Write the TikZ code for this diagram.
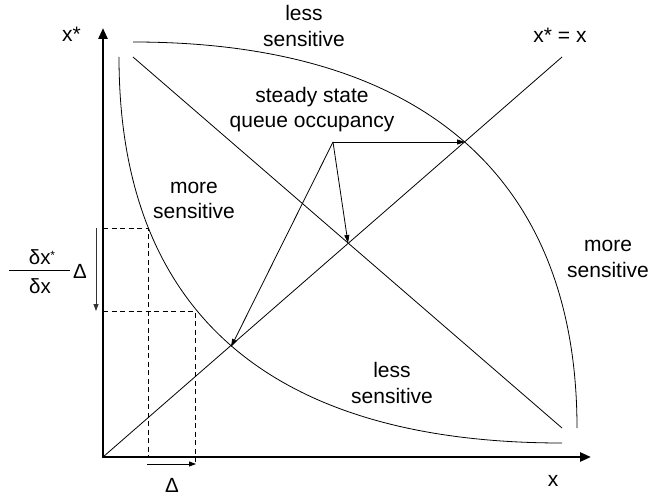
\documentclass[tikz,border=0pt]{standalone}
\usepackage{fontspec}
\setmainfont{Liberation Sans}
\usetikzlibrary{arrows.meta}
\begin{document}
\begin{tikzpicture}[x=1pt,y=-1pt,
  thinline/.style={line width=0.8pt},
  axisline/.style={line width=2.6pt,line join=miter,{Triangle[length=11pt,width=9pt]}-{Triangle[length=11pt,width=9pt]}},
  ptr/.style={line width=0.8pt,-{Triangle[length=8pt,width=5pt]}},
  dashline/.style={line width=0.8pt,dash pattern=on 5pt off 3.5pt},
  lbl/.style={font=\fontsize{21}{26}\selectfont,anchor=base,inner sep=0pt},
  frac/.style={font=\fontsize{20.5}{22}\selectfont,anchor=base,inner sep=0pt}]
\useasboundingbox (0,0) rectangle (652,497);
% key points
\coordinate (O) at (103,457);
\coordinate (ytip) at (103,28);
\coordinate (xtip) at (591,457);
\coordinate (diagend) at (562,57);
\coordinate (adstart) at (133,57);
\coordinate (adend) at (562,428);
\coordinate (ustart) at (133,42);
\coordinate (uend) at (577,428);
\coordinate (lstart) at (119,57);
\coordinate (lend) at (562,443);
\coordinate (src) at (333,142);
\coordinate (hitU) at (465,142);
\coordinate (hitC) at (348,243);
\coordinate (hitL) at (231,347);
\coordinate (ya) at (103,228);
\coordinate (yb) at (103,311);
\coordinate (pa) at (148,228);
\coordinate (pb) at (195,311);
\coordinate (xa) at (148,457);
\coordinate (xb) at (195,463);
% axes
\draw[axisline] (ytip) -- (O) -- (xtip);
% lines
\draw[thinline] (O) -- (diagend);
\draw[thinline] (adstart) -- (adend);
% arcs
\draw[thinline] (ustart) .. controls (422,42) and (577,177) .. (uend);
\draw[thinline] (lstart) .. controls (119,312) and (270,443) .. (lend);
% dashed
\draw[dashline] (ya) -- (pa) -- (xa);
\draw[dashline] (yb) -- (pb) -- (xb);
% arrows from steady state
\draw[ptr] (src) -- (hitU);
\draw[ptr] (src) -- (hitC);
\draw[ptr] (src) -- (hitL);
% delta arrows
\coordinate (va) at (96,228);
\coordinate (vb) at (96,311);
\coordinate (ha) at (147,464);
\coordinate (hb) at (196,464);
\draw[line width=0.8pt,black!80,-{Triangle[length=7pt,width=5pt]}] (va) -- (vb);
\draw[line width=0.8pt,-{Triangle[length=7pt,width=5pt]}] (ha) -- (hb);
% labels
\node[lbl] (t1) at (304,21) {less};
\node[lbl] (t2) at (304,47) {sensitive};
\node[lbl] (s1) at (312,103) {steady state};
\node[lbl] (s2) at (312,128) {queue occupancy};
\node[lbl] (m1) at (194,193) {more};
\node[lbl] (m2) at (194,218) {sensitive};
\node[lbl] (r1) at (608,251) {more};
\node[lbl] (r2) at (608,277) {sensitive};
\node[lbl] (b1) at (392,377) {less};
\node[lbl] (b2) at (392,403) {sensitive};
\node[lbl,anchor=base west] (ylab) at (62,42) {x*};
\node[lbl] (dlab) at (560,43) {x* = x};
\node[lbl] (xlab) at (553,486) {x};
\node[frac] (dB) at (172,492) {Δ};
\node[frac] (fn) at (42,264) {δx\raisebox{5pt}{\fontsize{12}{12}\selectfont *}};
\node[frac] (fd) at (40,293) {δx};
\node[frac] (fD) at (80,278) {Δ};
\coordinate (fbl) at (9,270);
\coordinate (fbr) at (70,270);
\draw[thinline] (fbl) -- (fbr);
\end{tikzpicture}
\end{document}
